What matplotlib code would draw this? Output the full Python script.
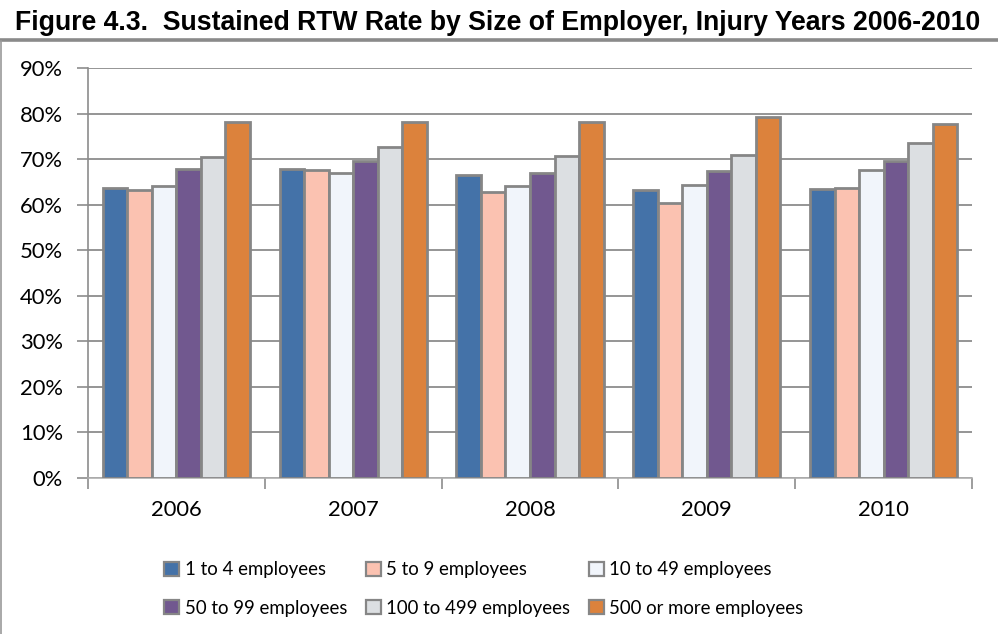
import matplotlib
matplotlib.use("Agg")
import matplotlib.pyplot as plt
import numpy as np
from matplotlib.lines import Line2D
from matplotlib.patches import Patch

years = ["2006", "2007", "2008", "2009", "2010"]
series_names = [
    "1 to 4 employees",
    "5 to 9 employees",
    "10 to 49 employees",
    "50 to 99 employees",
    "100 to 499 employees",
    "500 or more employees",
]
emp_1_4 = [0.636, 0.678, 0.665, 0.632, 0.634]
emp_5_9 = [0.633, 0.676, 0.628, 0.603, 0.636]
emp_10_49 = [0.641, 0.669, 0.641, 0.643, 0.676]
emp_50_99 = [0.678, 0.696, 0.670, 0.674, 0.696]
emp_100_499 = [0.704, 0.727, 0.707, 0.709, 0.735]
emp_500_plus = [0.781, 0.781, 0.781, 0.793, 0.776]
ytick_labels = ["0%", "10%", "20%", "30%", "40%", "50%", "60%", "70%", "80%", "90%"]

series = [emp_1_4, emp_5_9, emp_10_49, emp_50_99, emp_100_499, emp_500_plus]
colors = ["#4472a8", "#fbc2b1", "#f1f5fb", "#71588f", "#dcdfe2", "#dc823c"]
edge = "#868686"
grid_c = "#8c8c8c"
font = "Lato"

W, H = 998, 634
fig = plt.figure(figsize=(W / 100, H / 100), dpi=100)

# title and its rule
fig.text(15 / W, 1 - 30 / H, "Figure 4.3.  Sustained RTW Rate by Size of Employer, Injury Years 2006-2010",
         fontsize=19.2, fontweight="bold", family="Liberation Sans", va="baseline", ha="left")
fig.add_artist(Line2D([0, 1], [1 - 40 / H, 1 - 40 / H], transform=fig.transFigure,
                      color="#8a8a8a", lw=2.6))
fig.add_artist(Line2D([1.2 / W, 1.2 / W], [0, 1 - 41 / H], transform=fig.transFigure,
                      color="#9a9a9a", lw=1.2))

left, right, top, bottom = 88, 972, 68, 478
ax = fig.add_axes([left / W, 1 - bottom / H, (right - left) / W, (bottom - top) / H])

x = np.arange(len(years))
bw = 0.1386
for i, (vals, c, name) in enumerate(zip(series, colors, series_names)):
    ax.bar(x + (i - 2.5) * bw, vals, width=bw, color=c, edgecolor=edge,
           linewidth=2.0, label=name, zorder=3)

ax.set_xlim(-0.5, len(years) - 0.5)
ax.set_ylim(0, 0.9)
ax.set_yticks(np.arange(10) / 10)
ax.set_yticklabels(ytick_labels, family=font, fontsize=15.8)
ax.yaxis.grid(True, color=grid_c, lw=1.3, zorder=0)
ax.set_axisbelow(True)

# category labels centered, tick marks on category boundaries
ax.set_xticks(np.arange(-0.5, len(years) + 0.5, 1.0))
ax.set_xticklabels([])
ax.set_xticks(x, minor=True)
ax.set_xticklabels(years, minor=True, family=font, fontsize=15.8)
ax.tick_params(axis="x", which="minor", length=0, pad=16)
ax.tick_params(axis="x", which="major", length=8, color=grid_c, width=1.2, direction="out")
ax.tick_params(axis="y", length=8, color=grid_c, width=1.2, direction="out", pad=10)

for s in ["top", "right"]:
    ax.spines[s].set_visible(False)
ax.spines["left"].set_color(grid_c)
ax.spines["left"].set_linewidth(1.2)
ax.spines["bottom"].set_color("#b0b0b0")
ax.spines["bottom"].set_linewidth(1.2)

handles = [Patch(facecolor=c, edgecolor=edge, linewidth=1.6) for c in colors]
order = [0, 3, 1, 4, 2, 5]
fig.legend([handles[k] for k in order], [series_names[k] for k in order],
           ncol=3, frameon=False, loc="upper left",
           bbox_to_anchor=(155 / W, 1 - 552 / H),
           prop={"family": font, "size": 13.4}, handlelength=0.8, handleheight=0.8,
           handletextpad=0.3, columnspacing=1.0, labelspacing=1.15, borderpad=0)

fig.savefig("out.png", dpi=100)
